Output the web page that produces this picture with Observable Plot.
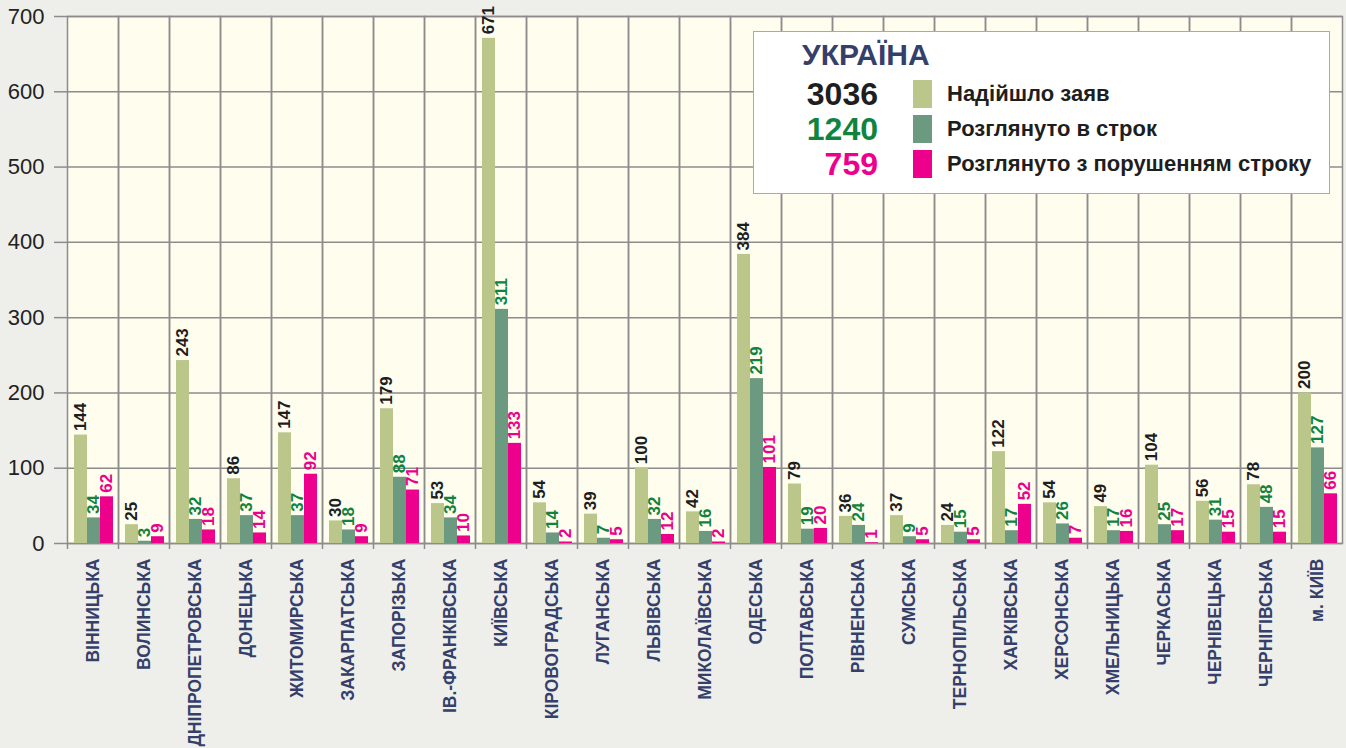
<!DOCTYPE html>
<html>
<head>
<meta charset="utf-8">
<script src="https://cdn.jsdelivr.net/npm/d3@7"></script>
<script src="https://cdn.jsdelivr.net/npm/@observablehq/plot@0.6"></script>
<style>
  html, body { margin: 0; padding: 0; background: #eeeeea; }
  #wrap { position: relative; width: 1346px; height: 748px; overflow: hidden; font-family: "Liberation Sans", Arial, sans-serif; }
  #legend { position: absolute; left: 753px; top: 31px; width: 577px; height: 163px; background: #fff; border: 1.5px solid #a9a9a9; box-sizing: border-box; }
  #legend .title { position: absolute; left: 48px; top: 6px; font-weight: bold; font-size: 30px; line-height: 34px; color: #34406a; }
  #legend .row { position: absolute; left: 0; height: 28px; display: flex; align-items: center; }
  #legend .num { width: 124px; text-align: right; font-weight: bold; font-size: 32px; line-height: 28px; }
  #legend .sw { margin-left: 35px; width: 19px; height: 28px; }
  #legend .lab { margin-left: 15px; font-weight: bold; font-size: 22px; color: #1e1e1e; white-space: nowrap; }
</style>
</head>
<body>
<div id="wrap"></div>
<script>
const regions = ["ВІННИЦЬКА","ВОЛИНСЬКА","ДНІПРОПЕТРОВСЬКА","ДОНЕЦЬКА","ЖИТОМИРСЬКА","ЗАКАРПАТСЬКА","ЗАПОРІЗЬКА","ІВ.-ФРАНКІВСЬКА","КИЇВСЬКА","КІРОВОГРАДСЬКА","ЛУГАНСЬКА","ЛЬВІВСЬКА","МИКОЛАЇВСЬКА","ОДЕСЬКА","ПОЛТАВСЬКА","РІВНЕНСЬКА","СУМСЬКА","ТЕРНОПІЛЬСЬКА","ХАРКІВСЬКА","ХЕРСОНСЬКА","ХМЕЛЬНИЦЬКА","ЧЕРКАСЬКА","ЧЕРНІВЕЦЬКА","ЧЕРНІГІВСЬКА","м. КИЇВ"];
const received = [144,25,243,86,147,30,179,53,671,54,39,100,42,384,79,36,37,24,122,54,49,104,56,78,200];
const onTime   = [34,3,32,37,37,18,88,34,311,14,7,32,16,219,19,24,9,15,17,26,17,25,31,48,127];
const late     = [62,9,18,14,92,9,71,10,133,2,5,12,2,101,20,1,5,5,52,7,16,17,15,15,66];
const seriesNames = ["Надійшло заяв","Розглянуто в строк","Розглянуто з порушенням строку"];
const totals = [3036, 1240, 759];
const legendTitle = "УКРАЇНА";
const yTicks = [0,100,200,300,400,500,600,700];

const barColors = ["#bac68a","#6b9a80","#ec008c"];
const textColors = ["#1e1e1e","#10843f","#ec008c"];

const seriesValues = [received, onTime, late];
const rows = regions.flatMap((r, i) => seriesNames.map((s, k) => ({region: r, series: s, value: seriesValues[k][i], k})));

const grid = "#8c8c8c";
const chart = Plot.plot({
  width: 1346, height: 748,
  marginLeft: 67, marginRight: 4, marginTop: 16, marginBottom: 205,
  style: {background: "transparent", fontFamily: "'Liberation Sans', Arial, sans-serif", overflow: "visible"},
  fx: {domain: regions, paddingInner: 0, paddingOuter: 0, label: null, axis: null},
  x: {domain: seriesNames, paddingInner: 0, paddingOuter: 0.37, align: 0.6, axis: null},
  y: {domain: [0, 700], axis: null},
  color: {domain: seriesNames, range: barColors},
  marks: [
    Plot.frame({fill: "#fffdee", stroke: "none"}),
    Plot.gridY(yTicks, {stroke: grid, strokeOpacity: 1, strokeWidth: 1.5}),
    Plot.frame({stroke: grid, strokeWidth: 1.5}),
    Plot.axisY(yTicks, {anchor: "left", tickSize: 13, tickPadding: 10, fontSize: 22, stroke: grid, strokeWidth: 1.5, fill: "#222", label: null}),
    Plot.axisFx({anchor: "bottom", tickSize: 6, text: null, dx: -25.5, stroke: grid, strokeWidth: 1.5, label: null}),
    Plot.text(regions, {fx: d => d, text: d => d, frameAnchor: "bottom", rotate: -90, textAnchor: "end", lineAnchor: "middle", dy: 15, fontSize: 17.5, fontWeight: "bold", fill: "#34406a"}),
    Plot.barY(rows, {fx: "region", x: "series", y: "value", fill: "series"}),
    Plot.text(rows, {fx: "region", x: "series", y: "value", text: d => String(d.value), rotate: -90, textAnchor: "start", lineAnchor: "middle", dy: -4, fontSize: 17, fontWeight: "bold", fill: d => textColors[d.k]})
  ]
});
const wrap = document.getElementById("wrap");
wrap.appendChild(chart);

const legend = document.createElement("div");
legend.id = "legend";
const t = document.createElement("div");
t.className = "title"; t.textContent = legendTitle;
legend.appendChild(t);
seriesNames.forEach((s, k) => {
  const row = document.createElement("div");
  row.className = "row";
  row.style.top = (48 + k * 35) + "px";
  row.innerHTML = `<div class="num" style="color:${textColors[k]}">${totals[k]}</div><div class="sw" style="background:${barColors[k]}"></div><div class="lab">${s}</div>`;
  legend.appendChild(row);
});
wrap.appendChild(legend);
</script>
</body>
</html>
